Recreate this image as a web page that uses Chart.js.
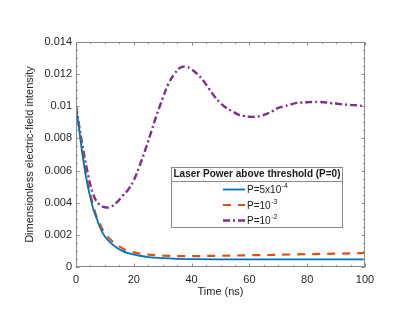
<!DOCTYPE html>
<html>
<head>
<meta charset="utf-8">
<script src="https://cdn.jsdelivr.net/npm/chart.js@4"></script>
<style>
html,body{margin:0;padding:0;background:#fff;}
#c{display:block;}
</style>
</head>
<body>
<canvas id="c" width="415" height="312"></canvas>
<script>
// ---- data ----
const timeA = [0,1,2,3,4,5,6,7,8,9,10,12,14,16,18,20,22,25,30,35,40,50,60,70,80,90,100];
const blueVals = [0.0100,0.0087,0.0073,0.0061,0.0051,0.0043,0.0036,0.0031,0.0026,0.0022,0.0019,0.00150,0.00122,0.00100,0.00086,0.00077,0.00070,0.00062,0.00055,0.00051,0.00049,0.00048,0.00048,0.00048,0.00048,0.00048,0.00048];
const orangeVals = [0.0100,0.0088,0.0075,0.0063,0.0053,0.0045,0.0038,0.0032,0.0028,0.0024,0.0021,0.00170,0.00140,0.00117,0.00101,0.00091,0.00084,0.00077,0.00071,0.00068,0.00068,0.00070,0.00073,0.00076,0.00080,0.00083,0.00087];
const timeB = [0,2,4,6,8,10,12,14,16,18,20,22,24,26,28,30,32,34,36,38,40,42,44,46,48,50,52,54,56,58,60,62,64,66,68,70,72,74,76,78,80,82,84,86,88,90,92,94,96,98,100];
const purpleVals = [0.0100,0.0078,0.0059,0.0045,0.0039,0.00372,0.00375,0.0040,0.0044,0.0048,0.0054,0.0063,0.0073,0.0084,0.0095,0.0105,0.0114,0.0120,0.0124,0.01246,0.0123,0.0120,0.0116,0.0111,0.0106,0.0102,0.0099,0.0097,0.0095,0.0094,0.00935,0.00935,0.0094,0.00953,0.0097,0.0099,0.0100,0.0101,0.0102,0.01023,0.01025,0.01027,0.01027,0.01025,0.0102,0.01017,0.01013,0.0101,0.01007,0.01005,0.0100];
const seriesLabels = [["P=5x10","-4"],["P=10","-3"],["P=10","-2"]];
const legendTitle = "Laser Power above threshold (P=0)";
const xTitle = "Time (ns)";
const yTitle = "Dimensionless electric-field intensity";
const yTicks = [0,0.002,0.004,0.006,0.008,0.01,0.012,0.014];
const xTicks = [0,20,40,60,80,100];

const FONT = "'Liberation Sans', Arial, Helvetica, sans-serif";
const colors = ['#0072BD','#D95319','#7E2F8E'];
const dashes = [[], [8,7], [7,3,2,3]];
const widths = [1.8, 2.2, 2.4];

function pts(t, v){ return t.map((x,i)=>({x:x,y:v[i]})); }

const boxPlugin = {
  id:'boxTicks',
  afterDatasetsDraw(chart){
    const ctx = chart.ctx, a = chart.chartArea;
    const xs = chart.scales.x, ys = chart.scales.y;
    ctx.save();
    ctx.strokeStyle = '#8a8a8a';
    ctx.lineWidth = 1;
    ctx.beginPath();
    ctx.rect(a.left+0.5, a.top+0.5, a.right-a.left-1, a.bottom-a.top-1);
    ctx.stroke();
    ctx.beginPath();
    for (let v=0; v<=100.001; v+=5){
      const px = Math.round(xs.getPixelForValue(v))+0.5;
      const L = (Math.abs(v%20)<1e-6)?3.5:2;
      ctx.moveTo(px,a.bottom); ctx.lineTo(px,a.bottom-L);
      ctx.moveTo(px,a.top); ctx.lineTo(px,a.top+L);
    }
    for (let k=0; k<=28; k++){
      const v = k*0.0005;
      const py = Math.round(ys.getPixelForValue(v))+0.5;
      const L = (k%4===0)?3.5:2;
      ctx.moveTo(a.left,py); ctx.lineTo(a.left+L,py);
      ctx.moveTo(a.right,py); ctx.lineTo(a.right-L,py);
    }
    ctx.stroke();
    ctx.restore();
  },
  afterDraw(chart){
    const ctx = chart.ctx, a = chart.chartArea;
    // legend box
    const L = 171, T = 167, R = 343, B = 228, sep = 181;
    ctx.save();
    ctx.fillStyle = '#fff';
    ctx.fillRect(L,T,R-L,B-T);
    ctx.strokeStyle = '#8a8a8a';
    ctx.lineWidth = 1;
    ctx.strokeRect(L+0.5,T+0.5,R-L-1,B-T-1);
    ctx.beginPath(); ctx.moveTo(L,sep+0.5); ctx.lineTo(R,sep+0.5); ctx.stroke();
    ctx.fillStyle = '#1a1a1a';
    ctx.font = 'bold 10px '+FONT;
    ctx.textAlign='center'; ctx.textBaseline='middle';
    ctx.fillText(legendTitle,(L+R)/2,T+7.5);
    const rows = [189.5,205,220.5];
    chart.data.datasets.forEach((ds,i)=>{
      const y = rows[i];
      ctx.strokeStyle = ds.borderColor;
      ctx.lineWidth = ds.borderWidth;
      ctx.setLineDash(ds.borderDash||[]);
      ctx.beginPath(); ctx.moveTo(223,y); ctx.lineTo(245,y); ctx.stroke();
      ctx.setLineDash([]);
      ctx.fillStyle = '#1a1a1a';
      ctx.textAlign='left'; ctx.textBaseline='middle';
      ctx.font = '10px '+FONT;
      const main = seriesLabels[i][0];
      ctx.fillText(main,247,y+1);
      const w = ctx.measureText(main).width;
      ctx.font = '7px '+FONT;
      ctx.fillText(seriesLabels[i][1],247+w+0.5,y-3);
    });
    ctx.restore();
  }
};

new Chart(document.getElementById('c'),{
  type:'line',
  data:{
    datasets:[
      {label:seriesLabels[0].join(''),data:pts(timeA,blueVals),borderColor:colors[0],borderWidth:widths[0],borderDash:dashes[0],pointRadius:0,cubicInterpolationMode:'monotone',fill:false},
      {label:seriesLabels[1].join(''),data:pts(timeA,orangeVals),borderColor:colors[1],borderWidth:widths[1],borderDash:dashes[1],pointRadius:0,cubicInterpolationMode:'monotone',fill:false},
      {label:seriesLabels[2].join(''),data:pts(timeB,purpleVals),borderColor:colors[2],borderWidth:widths[2],borderDash:dashes[2],pointRadius:0,tension:0.4,fill:false}
    ]
  },
  options:{
    responsive:false,
    animation:false,
    events:[],
    layout:{padding:{left:0,top:42,right:50,bottom:0}},
    plugins:{legend:{display:false},tooltip:{enabled:false}},
    scales:{
      x:{
        type:'linear',min:0,max:100,
        afterBuildTicks(s){ s.ticks = xTicks.map(v=>({value:v})); },
        afterFit(s){ s.height = 45; },
        grid:{display:false,drawTicks:false},
        border:{display:false},
        ticks:{padding:6,color:'#262626',font:{family:FONT,size:11},maxRotation:0,callback:(v)=>String(v)},
        title:{display:true,text:xTitle,color:'#262626',font:{family:FONT,size:11},padding:{top:2,bottom:13}}
      },
      y:{
        type:'linear',min:0,max:0.014,
        afterBuildTicks(s){ s.ticks = yTicks.map(v=>({value:v})); },
        afterFit(s){ s.width = 76; },
        grid:{display:false,drawTicks:false},
        border:{display:false},
        ticks:{padding:4,color:'#262626',font:{family:FONT,size:11},callback:(v)=>String(Number(v.toFixed(3)))},
        title:{display:true,text:yTitle,color:'#262626',font:{family:FONT,size:11},padding:{top:23,bottom:0}}
      }
    }
  },
  plugins:[boxPlugin]
});
</script>
</body>
</html>
